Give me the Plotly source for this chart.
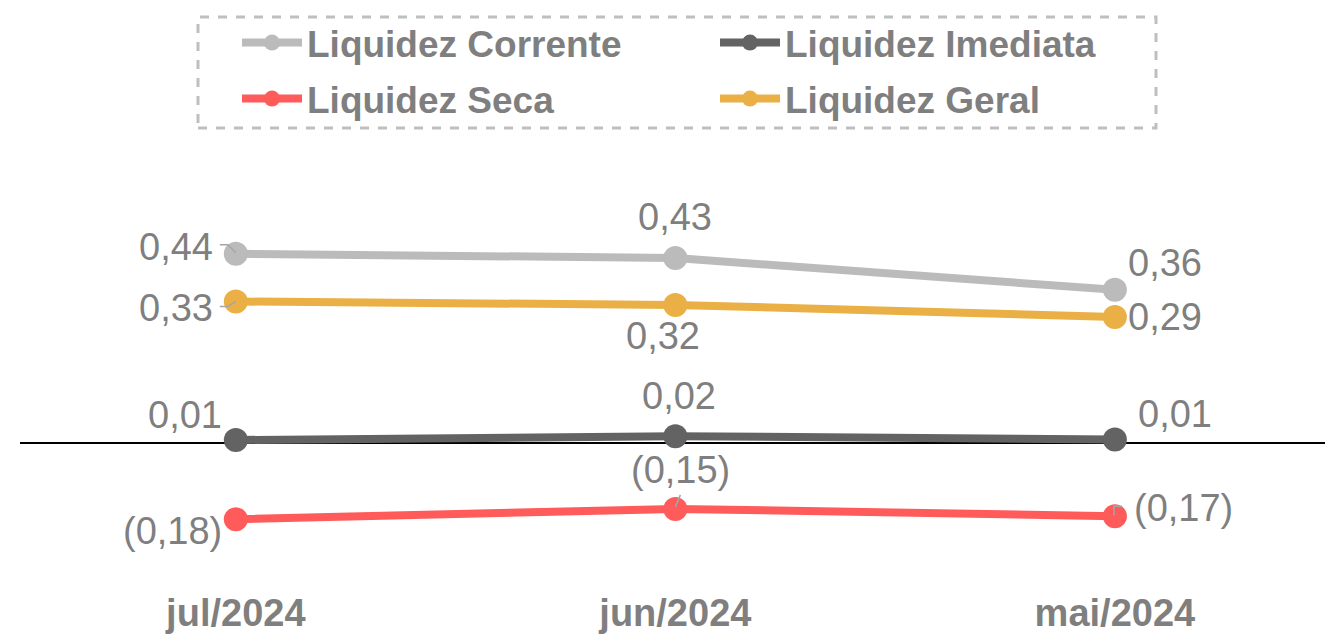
import plotly.graph_objects as go

# Dados
periodos = ["jul/2024", "jun/2024", "mai/2024"]
liq_corrente = [0.44, 0.43, 0.356]
liq_imediata = [0.007, 0.016, 0.008]
liq_seca = [-0.177, -0.153, -0.170]
liq_geral = [0.329, 0.321, 0.293]

COLORS = {
    "Liquidez Corrente": "#BBBBBB",
    "Liquidez Imediata": "#636363",
    "Liquidez Seca": "#FF5B5B",
    "Liquidez Geral": "#EAB045",
}
TEXT_COLOR = "#7F7F7F"
FONT = "Liberation Sans, Arial, sans-serif"

# plot area in pixels (used to place legend / box in paper coords)
PL, PR, PT, PB = 20, 1325, 150, 570


def px_x(x):
    return (x - PL) / (PR - PL)


def px_y(y):
    return (PB - y) / (PB - PT)


# label offsets (px) relative to each point
OFFSETS = {
    "Liquidez Corrente": [(-60, 7), (0, 41), (50, 27)],
    "Liquidez Imediata": [(-51, 25), (4, 40), (60, 26)],
    "Liquidez Seca": [(-63, -12), (5, 39), (69, 8)],
    "Liquidez Geral": [(-60, -7), (-12, -31), (50, 0)],
}
# small leader lines (pixel path relative to the point), (series, index) -> path
LEADERS = {
    ("Liquidez Corrente", 0): "M-16,9 L-8,9 L0,1",
    ("Liquidez Geral", 0): "M-16,-5 L-8,-5 L0,0",
    ("Liquidez Seca", 1): "M0,2 L5,14",
    ("Liquidez Seca", 2): "M-1,1 L-1,10 L7,10",
}
LEGEND_OF = {
    "Liquidez Corrente": "legend",
    "Liquidez Imediata": "legend",
    "Liquidez Seca": "legend2",
    "Liquidez Geral": "legend2",
}


def fmt(v):
    s = f"{abs(v):.2f}".replace(".", ",")
    return f"({s})" if v < 0 else s


series = {
    "Liquidez Corrente": liq_corrente,
    "Liquidez Imediata": liq_imediata,
    "Liquidez Seca": liq_seca,
    "Liquidez Geral": liq_geral,
}

fig = go.Figure()
for name, vals in series.items():
    fig.add_trace(go.Scatter(
        x=periodos, y=vals, name=name, mode="lines+markers",
        line=dict(color=COLORS[name], width=8),
        marker=dict(color=COLORS[name], size=24),
        legend=LEGEND_OF[name],
    ))
    for i, v in enumerate(vals):
        dx, dy = OFFSETS[name][i]
        fig.add_annotation(
            x=periodos[i], y=v, text=fmt(v), showarrow=False,
            xshift=dx, yshift=dy,
            font=dict(family=FONT, size=38, color=TEXT_COLOR),
        )
        if (name, i) in LEADERS:
            fig.add_shape(
                type="path", xref="x", yref="y",
                xsizemode="pixel", ysizemode="pixel",
                xanchor=i, yanchor=v, path=LEADERS[(name, i)],
                line=dict(color="#A6A6A6", width=1.5),
            )

# dashed legend border
fig.add_shape(
    type="rect", xref="paper", yref="paper",
    x0=px_x(198), x1=px_x(1156), y0=px_y(128), y1=px_y(17),
    line=dict(color="#BFBFBF", width=3, dash="dash"),
)

legend_style = dict(
    orientation="h", xanchor="left", yanchor="middle",
    entrywidth=403, entrywidthmode="pixels", itemwidth=60,
    font=dict(family=FONT, size=37, color=TEXT_COLOR, weight="bold"),
    bgcolor="rgba(0,0,0,0)", itemsizing="trace",
)

fig.update_layout(
    width=1325, height=636,
    plot_bgcolor="#FFFFFF", paper_bgcolor="#FFFFFF",
    margin=dict(l=PL, r=1325 - PR, t=PT, b=636 - PB),
    font=dict(family=FONT, color=TEXT_COLOR),
    showlegend=True,
    legend=dict(x=px_x(237), y=px_y(43), **legend_style),
    legend2=dict(x=px_x(237), y=px_y(99), **legend_style),
    xaxis=dict(
        type="category", range=[-0.491, 2.478], showgrid=False,
        showline=False, ticks="", ticklabelstandoff=17, automargin=False,
        tickfont=dict(family=FONT, size=38, color=TEXT_COLOR, weight="bold"),
    ),
    yaxis=dict(
        range=[-0.295, 0.681], showgrid=False, showticklabels=False,
        automargin=False,
        zeroline=True, zerolinecolor="#000000", zerolinewidth=1.5,
    ),
)

fig.write_html(
    "out.html",
    config={"displayModeBar": False},
    post_script="document.body.style.margin='0';",
)
